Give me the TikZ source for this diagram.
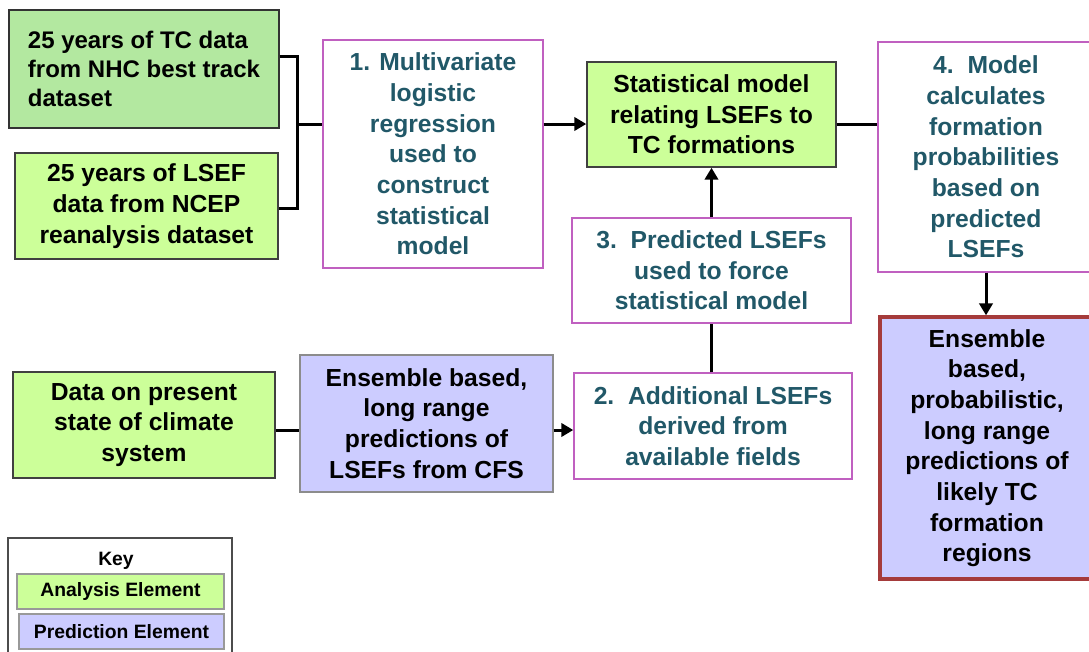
\documentclass[tikz,border=0pt]{standalone}
\usepackage{fontspec}
\setmainfont{Liberation Sans}
\usetikzlibrary{arrows.meta}
\definecolor{gA}{HTML}{B3E8A0}
\definecolor{gB}{HTML}{CCFF99}
\definecolor{lav}{HTML}{CCCCFF}
\definecolor{magb}{HTML}{C060C0}
\definecolor{tealtxt}{HTML}{215868}
\definecolor{redb}{HTML}{A53B3B}
\begin{document}
\begin{tikzpicture}[x=0.75pt,y=-0.75pt,
  box/.style={draw=black!75, line width=1.1pt, align=center, inner sep=0pt,
    font=\fontsize{18.5}{23}\selectfont\bfseries},
  numbox/.style={box, draw=magb, fill=white, text=tealtxt},
  ana/.style={box, fill=gB},
  pred/.style={box, fill=lav, draw=black!45},
  keytxt/.style={font=\fontsize{14.5}{17}\selectfont\bfseries, inner sep=0pt},
  conn/.style={line width=2.25pt},
  arr/.style={conn, -{Triangle[length=9pt,width=10pt]}}]
\useasboundingbox (0,0) rectangle (1089,651);
\clip (0,0) rectangle (1089,651);
\fill[white] (0,0) rectangle (1089,651);

% nodes
\node[ana, fill=gA, draw=black!80, minimum width=202.5pt, minimum height=88.5pt,
  align=left, font=\fontsize{18}{21.75}\selectfont\bfseries]
  (tc) at (144,69) {25 years of TC data\\from NHC best track\\dataset};
\node[ana, minimum width=197.25pt, minimum height=79.5pt]
  (lsef) at (146.5,206) {25 years of LSEF\\data from NCEP\\reanalysis dataset};
\node[numbox, minimum width=165pt, minimum height=171pt]
  (m1) at (433,154) {1. Multivariate\\logistic\\regression\\used to\\construct\\statistical\\model};
\node[ana, minimum width=186.75pt, minimum height=78.75pt]
  (stat) at (711.5,114.5) {Statistical model\\relating LSEFs to\\TC formations};
\node[numbox, minimum width=162pt, minimum height=172.5pt]
  (m4) at (986,157) {4.~~Model\\calculates\\formation\\probabilities\\based on\\predicted\\LSEFs};
\node[pred, draw=redb, line width=2.5pt, minimum width=160.5pt, minimum height=196.5pt]
  (ens) at (987,448) {Ensemble\\based,\\probabilistic,\\long range\\predictions of\\likely TC\\formation\\regions};
\node[numbox, minimum width=209.25pt, minimum height=78.75pt]
  (m3) at (711.5,270.5) {3.~~Predicted LSEFs\\used to force\\statistical model};
\node[numbox, minimum width=208.5pt, minimum height=79.5pt]
  (m2) at (713,426) {2.~~Additional LSEFs\\derived from\\available fields};
\node[ana, minimum width=196.5pt, minimum height=79.5pt]
  (data) at (144,425) {Data on present\\state of climate\\system};
\node[pred, minimum width=189.75pt, minimum height=102.75pt]
  (cfs) at (426.5,423.5) {Ensemble based,\\long range\\predictions of\\LSEFs from CFS};

% key
\node[draw=black!70, line width=1.1pt, fill=white, minimum width=168pt, minimum height=91.5pt, inner sep=0pt]
  (key) at (120,599) {};
\node[keytxt] (keylbl) at (116,561) {Key};
\node[keytxt, fill=gB, draw=black!40, line width=0.8pt, minimum width=155.25pt, minimum height=26.25pt]
  (kana) at (120.5,591.5) {Analysis Element};
\node[keytxt, fill=lav, draw=black!40, line width=0.8pt, minimum width=153.75pt, minimum height=26.25pt]
  (kpred) at (121.5,631.5) {Prediction Element};

% connectors
\coordinate (yA) at (0,56);
\coordinate (yB) at (0,208);
\coordinate (j1) at (297,124);
\coordinate (yC) at (0,430);
\draw[conn] (tc.east |- yA) -| (j1) |- (lsef.east |- yB);
\draw[conn] (j1) -- (m1.west |- j1);
\draw[arr] (m1.east |- j1) -- (stat.west |- j1);
\draw[conn] (stat.east |- j1) -- (m4.west |- j1);
\draw[arr] (m4.south) -- (m4.south |- ens.north);
\draw[arr] (m3.north) -- (stat.south);
\draw[conn] (m3.south |- m2.north) -- (m3.south);
\draw[conn] (data.east |- yC) -- (cfs.west |- yC);
\draw[arr] (cfs.east |- yC) -- (m2.west |- yC);
\end{tikzpicture}
\end{document}
